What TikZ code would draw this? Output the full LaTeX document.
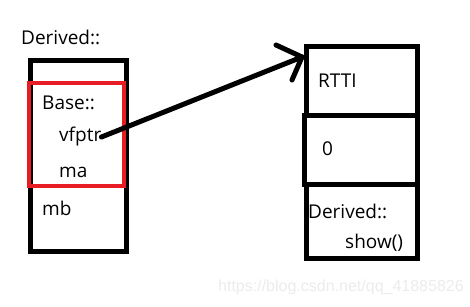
\documentclass[tikz,border=0pt]{standalone}
\usepackage{fontspec}
\setmainfont{Open Sans}
\newfontfamily\wmfont{Liberation Sans}
\begin{document}
\begin{tikzpicture}[x=1pt,y=-1pt,
  lbl/.style={anchor=west,inner sep=0pt,font=\fontsize{19}{21}\selectfont},
  blk/.style={draw=black,line width=5pt},
  redbox/.style={draw={rgb,255:red,232;green,28;blue,36},line width=4pt}]
\useasboundingbox[fill=white] (0,0) rectangle (470,306);
% left object
\node[lbl] (derived) at (21,37) {Derived::};
\path[blk] (30,60) rectangle (126,251);
\path[redbox] (29,83) rectangle (124,186);
\node[lbl] (base) at (42,103) {Base::};
\node[lbl] (vfptr) at (59,137) {vfptr};
\node[lbl] (ma) at (59,172) {ma};
\node[lbl] (mb) at (42,208) {mb};
% right vtable
\path[blk] (306,46) rectangle (417,115);
\path[blk] (304,115) rectangle (417,184);
\path[blk] (306,184) rectangle (417,258);
\node[lbl] (rtti) at (318,81) {RTTI};
\node[lbl] (zero) at (322,149) {0};
\node[lbl] (dshow) at (308,211) {Derived::};
\node[lbl] (show) at (345,243) {show()};
\coordinate (tip) at (302,57);
% arrow
\draw[line width=5pt,line cap=round] (vfptr.east) -- (tip);
\draw[line width=5pt,line cap=round,line join=miter] (276,45) -- (tip) -- (292,80);
% watermark
\node[anchor=west,inner sep=0pt,text={rgb,255:red,236;green,236;blue,236},font=\wmfont\fontsize{16}{18}\selectfont] (wm) at (218,287) {https://blog.csdn.net/qq\_41885826};
\end{tikzpicture}
\end{document}
